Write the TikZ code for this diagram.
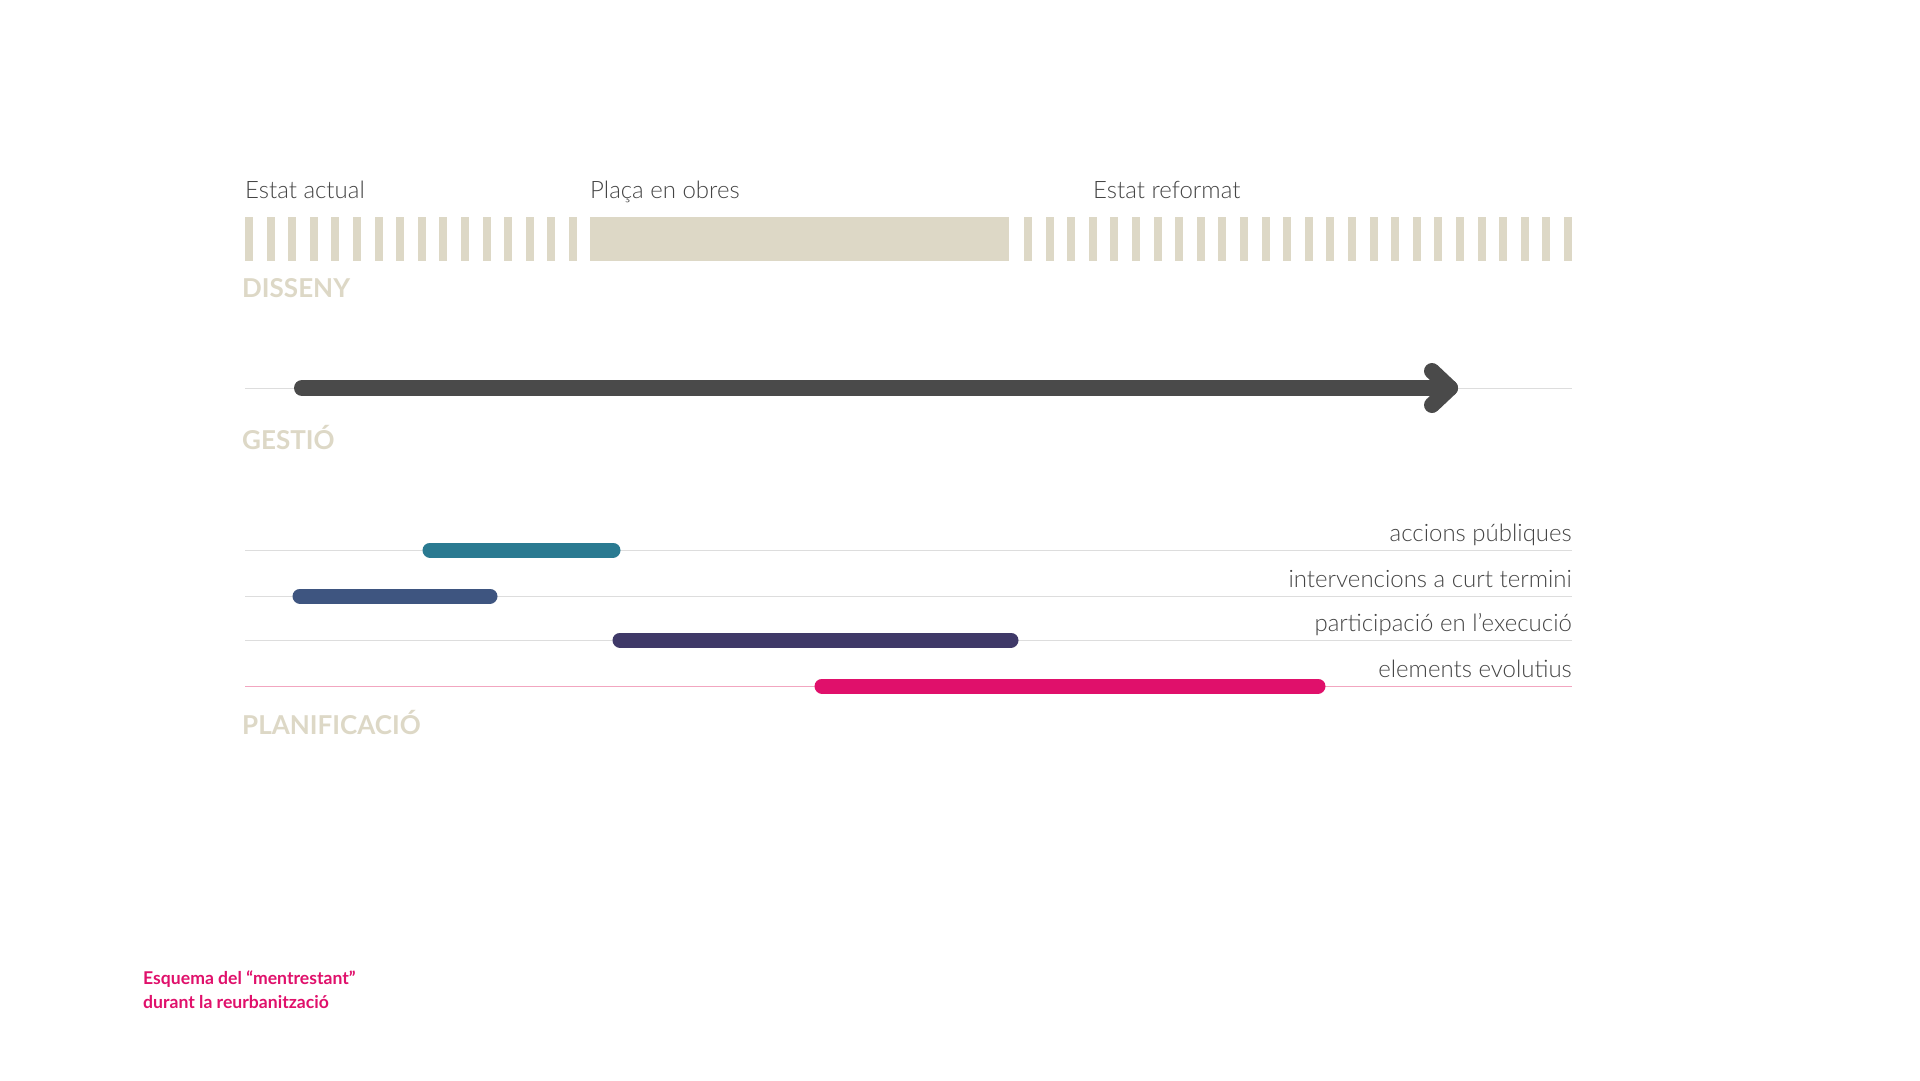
\documentclass[tikz,border=0pt]{standalone}
\usepackage{fontspec}
\setmainfont{Lato}
\newfontfamily\lightfont{Lato Light}
\newfontfamily\headfont{Lato Bold}
\definecolor{beige}{HTML}{DDD8C6}
\definecolor{darkarrow}{HTML}{4A4A4A}
\definecolor{teal}{HTML}{2A7A91}
\definecolor{slateblue}{HTML}{3E5580}
\definecolor{deeppurple}{HTML}{3F3968}
\definecolor{hotpink}{HTML}{E0106B}
\definecolor{thingray}{HTML}{DDDDDD}
\definecolor{thinpink}{HTML}{F2A6C0}
\definecolor{labeltext}{HTML}{444444}
\tikzset{
  phase/.style={font=\lightfont\fontsize{24}{28}\selectfont, text=labeltext, inner sep=0pt, anchor=base west},
  rowlabel/.style={font=\lightfont\fontsize{24}{28}\selectfont, text=labeltext, inner sep=0pt, anchor=base east},
  heading/.style={font=\headfont\fontsize{26}{30}\selectfont, text=beige, inner sep=0pt, anchor=base west},
  captext/.style={font=\headfont\fontsize{17.6}{24}\selectfont, text=hotpink, inner sep=0pt, anchor=base west},
  stripe/.style={fill=beige, draw=none},
  guide/.style={draw=thingray, line width=1pt},
  bar/.style={line width=15pt, line cap=round},
}
\begin{document}
\begin{tikzpicture}[x=1pt,y=-1pt]
\useasboundingbox[fill=white] (0,0) rectangle (1920,1080);

% phase labels
\node[phase] (actual) at (245,198) {Estat actual};
\node[phase] (obres) at (590,198) {Plaça en obres};
\node[phase] (reformat) at (1093,198) {Estat reformat};

% stripes
\foreach \i in {0,...,15}{
  \fill[stripe] ({245+\i*21.6},217) rectangle ({253+\i*21.6},261);
}
\fill[stripe] (590,217) rectangle (1009,261);
\foreach \i in {0,...,25}{
  \fill[stripe] ({1024+\i*21.6},217) rectangle ({1032+\i*21.6},261);
}
\node[heading] (disseny) at (242,297) {DISSENY};

% gestio arrow
\coordinate (gl) at (245,388);
\coordinate (gr) at (1572,388);
\draw[guide] (gl) -- (gr);
\coordinate (as) at (302,388);
\coordinate (ae) at (1450,388);
\coordinate (au) at (1432,371);
\coordinate (ad) at (1432,405);
\draw[darkarrow, line width=16pt, line cap=round] (as) -- (ae);
\draw[darkarrow, line width=16pt, line cap=round, line join=round] (au) -- (ae) -- (ad);
\node[heading] (gestio) at (242,449) {GESTIÓ};

% gantt rows
\coordinate (r1l) at (245,550); \coordinate (r1r) at (1572,550);
\coordinate (r2l) at (245,596); \coordinate (r2r) at (1572,596);
\coordinate (r3l) at (245,640); \coordinate (r3r) at (1572,640);
\coordinate (r4l) at (245,686); \coordinate (r4r) at (1572,686);
\draw[guide] (r1l) -- (r1r);
\draw[guide] (r2l) -- (r2r);
\draw[guide] (r3l) -- (r3r);
\draw[draw=thinpink, line width=1pt] (r4l) -- (r4r);

\coordinate (b1s) at (430,550); \coordinate (b1e) at (613,550);
\coordinate (b2s) at (300,596); \coordinate (b2e) at (490,596);
\coordinate (b3s) at (620,640); \coordinate (b3e) at (1011,640);
\coordinate (b4s) at (822,686); \coordinate (b4e) at (1318,686);
\draw[bar, teal] (b1s) -- (b1e);
\draw[bar, slateblue] (b2s) -- (b2e);
\draw[bar, deeppurple] (b3s) -- (b3e);
\draw[bar, hotpink] (b4s) -- (b4e);

\node[rowlabel] (l1) at (1572,541) {accions públiques};
\node[rowlabel] (l2) at (1572,587) {intervencions a curt termini};
\node[rowlabel] (l3) at (1572,631) {participació en l’execució};
\node[rowlabel] (l4) at (1572,677) {elements evolutius};

\node[heading] (planif) at (242,734) {PLANIFICACIÓ};

% caption
\node[captext] (cap1) at (143,984) {Esquema del “mentrestant”};
\node[captext] (cap2) at (143,1008) {durant la reurbanització};
\end{tikzpicture}
\end{document}
